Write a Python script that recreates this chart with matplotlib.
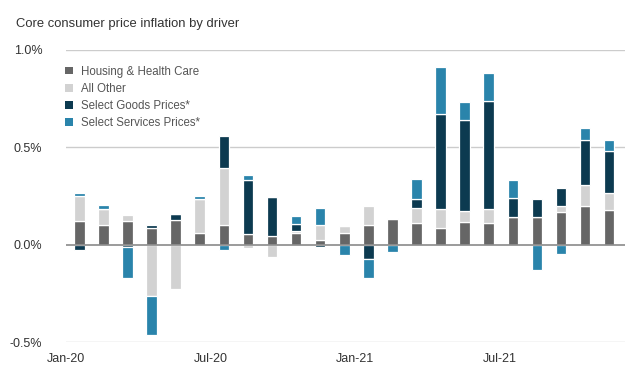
import numpy as np
import matplotlib.pyplot as plt
from matplotlib.patches import Patch

plt.rcParams['font.family'] = ['Liberation Sans', 'DejaVu Sans']

months = ['Jan-20', 'Feb-20', 'Mar-20', 'Apr-20', 'May-20', 'Jun-20', 'Jul-20', 'Aug-20',
          'Sep-20', 'Oct-20', 'Nov-20', 'Dec-20', 'Jan-21', 'Feb-21', 'Mar-21', 'Apr-21',
          'May-21', 'Jun-21', 'Jul-21', 'Aug-21', 'Sep-21', 'Oct-21', 'Nov-21']

# contributions in percentage points
housing = [0.12, 0.10, 0.12, 0.085, 0.125, 0.06, 0.10, 0.055, 0.045, 0.06, 0.025, 0.06,
           0.10, 0.13, 0.11, 0.085, 0.115, 0.11, 0.14, 0.14, 0.17, 0.20, 0.18]
all_other = [0.13, 0.085, 0.03, -0.265, -0.23, 0.175, 0.295, -0.017, -0.065, 0.01, 0.075, 0.035,
             0.10, 0.005, 0.08, 0.10, 0.06, 0.075, 0.0, 0.0, 0.03, 0.105, 0.085]
goods = [-0.025, 0.0, -0.01, 0.015, 0.035, 0.0, 0.165, 0.275, 0.20, 0.035, -0.01, 0.0,
         -0.075, 0.0, 0.045, 0.485, 0.465, 0.555, 0.10, 0.095, 0.09, 0.235, 0.215]
services = [0.015, 0.02, -0.16, -0.20, 0.0, 0.015, -0.025, 0.03, 0.0, 0.04, 0.09, -0.055,
            -0.095, -0.035, 0.10, 0.24, 0.095, 0.14, 0.09, -0.13, -0.05, 0.06, 0.055]

names = ['Housing & Health Care', 'All Other', 'Select Goods Prices*', 'Select Services Prices*']
colors = ['#666666', '#d2d2d2', '#0c3a50', '#2a84ab']

fig = plt.figure(figsize=(6.35, 3.78), dpi=100)
ax = fig.add_axes([0.104, 0.095, 0.88, 0.773])

x = np.arange(len(months))
pos = np.zeros(len(months))
neg = np.zeros(len(months))
for vals, c in zip([housing, all_other, goods, services], colors):
    v = np.array(vals)
    bottom = np.where(v >= 0, pos, neg)
    ax.bar(x, v, width=0.44, bottom=bottom, color=c, edgecolor='white', linewidth=0.9, zorder=3)
    pos = pos + np.where(v > 0, v, 0)
    neg = neg + np.where(v < 0, v, 0)

for y in [1.0, 0.5, -0.5]:
    ax.axhline(y, color='#cccccc', lw=1, zorder=1)
ax.axhline(0, color='#8a8a8a', lw=1.2, zorder=4)

ax.set_xlim(-0.45, 22.65)
ax.set_ylim(-0.5, 1.0)
ax.set_yticks([1.0, 0.5, 0.0, -0.5])
ax.set_yticklabels(['1.0%', '0.5%', '0.0%', '-0.5%'])
ax.set_xticks([-0.55, 5.45, 11.45, 17.45])
ax.set_xticklabels(['Jan-20', 'Jul-20', 'Jan-21', 'Jul-21'])
ax.tick_params(axis='y', length=0, pad=17, labelsize=9, labelcolor='#333333')
ax.tick_params(axis='x', length=0, pad=8, labelsize=9, labelcolor='#333333')
for s in ax.spines.values():
    s.set_visible(False)

fig.text(0.025, 0.937, 'Core consumer price inflation by driver', fontsize=9.4,
         color='#333333', va='center')

handles = [Patch(facecolor=c, edgecolor='none') for c in colors]
ax.legend(handles, names, loc='upper left', bbox_to_anchor=(-0.01, 0.962), frameon=False,
          fontsize=8.3, handlelength=0.65, handleheight=0.65, handletextpad=0.75,
          labelspacing=0.45, labelcolor='#555555', borderaxespad=0)

fig.savefig('out.png', dpi=100, facecolor='white')
